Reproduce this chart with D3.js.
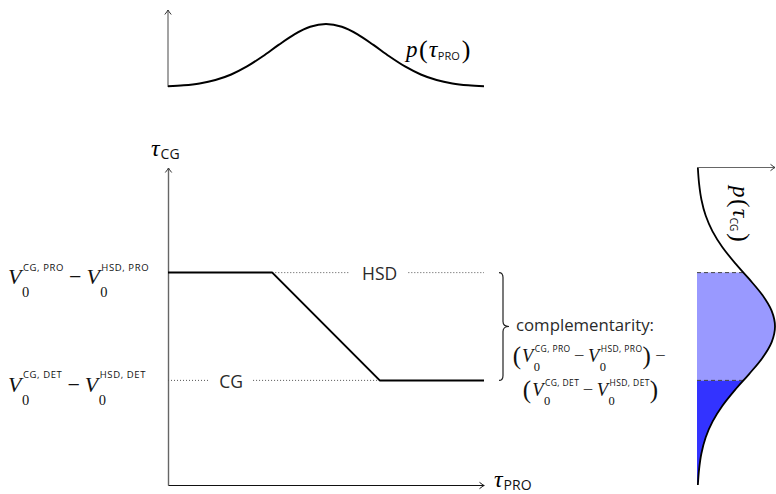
<!DOCTYPE html>
<html><head><meta charset="utf-8">
<script src="https://cdn.jsdelivr.net/npm/d3@7"></script>
<style>body{margin:0;background:#fff}</style>
</head><body><svg id="c" width="776" height="494"></svg>
<script>
// ---------- data ----------
const tauPRO = [0, 3.3, 6.7, 10];          // piecewise policy line, x values
const tauCG  = [6.7, 6.7, 3.3, 3.3];       // piecewise policy line, y values
const levelNames  = ["HSD", "CG"];
const levelValues = [6.7, 3.3];
const levelLabelAt = [6.7, 2.0];           // where the level text sits along tau_PRO
const levelSup = [["CG, PRO", "HSD, PRO"], ["CG, DET", "HSD, DET"]];
const densityTau = [0,0.5,1,1.5,2,2.5,3,3.5,4,4.5,5,5.5,6,6.5,7,7.5,8,8.5,9,9.5,10];
const densityP   = [0.011,0.027,0.057,0.111,0.199,0.326,0.488,0.668,0.836,0.956,1.0,
                    0.956,0.836,0.668,0.488,0.326,0.199,0.111,0.057,0.027,0.011];
const complementText = "complementarity:";

// ---------- scales ----------
const svg = d3.select("#c");
const x = d3.scaleLinear([0, 10], [168, 484]);
const y = d3.scaleLinear([0, 10], [485, 168]);
const yTop = d3.scaleLinear([0, 1], [87, 24]);
const xRight = d3.scaleLinear([0, 1], [697, 775]);

const SERIF = "'Liberation Serif', 'Times New Roman', serif";
const SANS = "'Open Sans', 'Noto Sans', sans-serif";
const dens = densityTau.map((t, i) => ({t, p: densityP[i]}));

function arrowHead(g, tx, ty, dir, color) {
  const p = dir === 'right'
    ? `M${tx-4.5},${ty-3.2} Q${tx-1.5},${ty-0.8} ${tx},${ty} Q${tx-1.5},${ty+0.8} ${tx-4.5},${ty+3.2}`
    : `M${tx-3.2},${ty+4.5} Q${tx-0.8},${ty+1.5} ${tx},${ty} Q${tx+0.8},${ty+1.5} ${tx+3.2},${ty+4.5}`;
  g.append("path").attr("d", p).attr("fill", "none").attr("stroke", color).attr("stroke-width", 1);
}
function tw(el) { return el.node().getComputedTextLength(); }

function expr(g, x0, base, tokens, s) {
  let cx = x0;
  tokens.forEach(t => {
    if (typeof t === "string") {
      if (t === "−") {
        cx += s.gap;
        const el = g.append("text").attr("x", cx).attr("y", base).attr("font-family", SERIF)
          .attr("font-size", s.v).attr("fill", "#111").text("−");
        cx += tw(el) + s.gap;
      } else {
        const el = g.append("text").attr("x", cx).attr("y", base + s.parenDy).attr("font-family", SERIF)
          .attr("font-size", s.paren).attr("fill", "#111").text(t);
        cx += tw(el) + 1;
      }
    } else {
      const v = g.append("text").attr("x", cx).attr("y", base).attr("font-family", SERIF)
        .attr("font-style", "italic").attr("font-size", s.v).attr("fill", "#111").text("V");
      const wv = tw(v);
      const sup = g.append("text").attr("x", cx + wv + 1.5).attr("y", base - s.supDy)
        .attr("font-family", SANS).attr("font-size", s.sup).attr("fill", "#111")
        .attr("letter-spacing", s.ls).text(t.V);
      const sub = g.append("text").attr("x", cx + wv + 0.5).attr("y", base + s.subDy)
        .attr("font-family", SERIF).attr("font-size", s.sub).attr("fill", "#111").text("0");
      cx += wv + Math.max(tw(sup) + 1.5, tw(sub));
    }
  });
  return cx;
}

// ---------- top density ----------
const topG = svg.append("g");
topG.append("line").attr("x1", x(0)).attr("x2", x(0)).attr("y1", yTop(0)).attr("y2", 10)
  .attr("stroke", "#666").attr("stroke-width", 1.2);
arrowHead(topG, x(0), 10, "up", "#333");
topG.append("path").datum(dens)
  .attr("d", d3.line().x(d => x(d.t)).y(d => yTop(d.p)).curve(d3.curveMonotoneX))
  .attr("fill", "none").attr("stroke", "#000").attr("stroke-width", 2);
{
  const g = topG.append("g");
  let cx = 406;
  const b = 57;
  let el = g.append("text").attr("x", cx).attr("y", b).attr("font-family", SERIF).attr("font-style", "italic")
    .attr("font-size", 23).text("p"); cx += tw(el) + 1.5;
  el = g.append("text").attr("x", cx).attr("y", b + 1).attr("font-family", SERIF).attr("font-size", 26).text("("); cx += tw(el) + 1;
  el = g.append("text").attr("x", cx).attr("y", b).attr("font-family", SERIF).attr("font-style", "italic")
    .attr("font-size", 24).text("τ"); cx += tw(el) + 0.5;
  el = g.append("text").attr("x", cx).attr("y", b + 3).attr("font-family", SANS).attr("font-size", 11)
    .attr("fill", "#111").text("PRO"); cx += tw(el) + 2;
  g.append("text").attr("x", cx).attr("y", b + 1).attr("font-family", SERIF).attr("font-size", 26).text(")");
}

// ---------- main plot ----------
const mainG = svg.append("g");
mainG.append("g").attr("transform", `translate(${x(0)},0)`)
  .call(d3.axisLeft(y).tickValues([]).tickSizeOuter(0))
  .call(g => g.select(".domain").attr("stroke", "#666").attr("stroke-width", 1.4));
mainG.append("g").attr("transform", `translate(0,${y(0)})`)
  .call(d3.axisBottom(x).tickValues([]).tickSizeOuter(0))
  .call(g => g.select(".domain").attr("stroke", "#111").attr("stroke-width", 1.2));
arrowHead(mainG, x(0) + 0.5, y(10), "up", "#333");
arrowHead(mainG, x(10), y(0) + 0.5, "right", "#111");

{
  let el = mainG.append("text").attr("x", 151).attr("y", 156).attr("font-family", SERIF).attr("font-style", "italic")
    .attr("font-size", 24).text("τ");
  mainG.append("text").attr("x", 151 + tw(el) + 1).attr("y", 159).attr("font-family", SANS).attr("font-size", 14)
    .attr("fill", "#111").text("CG");
  el = mainG.append("text").attr("x", 494).attr("y", 487).attr("font-family", SERIF).attr("font-style", "italic")
    .attr("font-size", 24).text("τ");
  mainG.append("text").attr("x", 494 + tw(el) + 1).attr("y", 489.5).attr("font-family", SANS).attr("font-size", 14)
    .attr("fill", "#111").text("PRO");
}

levelNames.forEach((name, i) => {
  const yy = y(levelValues[i]);
  const t = mainG.append("text").attr("x", x(levelLabelAt[i])).attr("y", yy + 7.5)
    .attr("text-anchor", "middle").attr("font-family", SANS).attr("font-size", 17.5)
    .attr("fill", "#2a2a2a").text(name);
  const w = tw(t);
  const cxl = x(levelLabelAt[i]);
  const segs = i === 0
    ? [[x(tauPRO[1]), cxl - w / 2 - 13], [cxl + w / 2 + 11, x(10)]]
    : [[x(0), cxl - w / 2 - 10], [cxl + w / 2 + 10, x(tauPRO[2])]];
  segs.forEach(([a, b]) => mainG.append("line").attr("x1", a).attr("x2", b).attr("y1", yy).attr("y2", yy)
    .attr("stroke", "#555").attr("stroke-width", 1).attr("stroke-dasharray", "1 2"));
});

mainG.append("path").datum(tauPRO.map((t, i) => [t, tauCG[i]]))
  .attr("d", d3.line().x(d => x(d[0])).y(d => y(d[1])))
  .attr("fill", "none").attr("stroke", "#000").attr("stroke-width", 2).attr("stroke-linejoin", "round");

const sL = {v: 22, sup: 9.5, sub: 14.5, paren: 24, parenDy: 1, supDy: 13.5, subDy: 13, gap: 5, ls: 0.6};
levelValues.forEach((lv, i) => {
  expr(mainG, 8, y(lv) + 11.5, [{V: levelSup[i][0]}, "−", {V: levelSup[i][1]}], sL);
});

{
  const yA = y(levelValues[0]), yB = y(levelValues[1]), ym = (yA + yB) / 2, bx = 503;
  const d = `M${bx-4},${yA} Q${bx},${yA} ${bx},${yA+5} L${bx},${ym-5} Q${bx},${ym} ${bx+6},${ym}
             Q${bx},${ym} ${bx},${ym+5} L${bx},${yB-5} Q${bx},${yB} ${bx-4},${yB}`;
  mainG.append("path").attr("d", d).attr("fill", "none").attr("stroke", "#222").attr("stroke-width", 1.2);
}

{
  mainG.append("text").attr("x", 585).attr("y", 331).attr("text-anchor", "middle")
    .attr("font-family", SANS).attr("font-size", 16.8).attr("fill", "#2a2a2a").text(complementText);
  const sC = {v: 18.5, sup: 8.5, sub: 12.5, paren: 25, parenDy: 2, supDy: 10.5, subDy: 9, gap: 3.5, ls: 0.4};
  const cxC = 591;
  const g2 = mainG.append("g");
  const e2 = expr(g2, 0, 362, ["(", {V: levelSup[0][0]}, "−", {V: levelSup[0][1]}, ")", "−"], sC);
  g2.attr("transform", `translate(${cxC - e2 / 2},0)`);
  const g3 = mainG.append("g");
  const e3 = expr(g3, 0, 396, ["(", {V: levelSup[1][0]}, "−", {V: levelSup[1][1]}, ")"], sC);
  g3.attr("transform", `translate(${cxC - e3 / 2},0)`);
}

// ---------- right density ----------
const rightG = svg.append("g");
const areaR = d3.area().y(d => y(d.t)).x0(xRight(0)).x1(d => xRight(d.p)).curve(d3.curveMonotoneY);
const lineR = d3.line().y(d => y(d.t)).x(d => xRight(d.p)).curve(d3.curveMonotoneY);
const defs = svg.append("defs");
defs.append("clipPath").attr("id", "clipLight").append("rect")
  .attr("x", 690).attr("width", 90).attr("y", y(levelValues[0])).attr("height", y(levelValues[1]) - y(levelValues[0]));
defs.append("clipPath").attr("id", "clipDark").append("rect")
  .attr("x", 690).attr("width", 90).attr("y", y(levelValues[1])).attr("height", y(0) - y(levelValues[1]) + 2);
defs.append("clipPath").attr("id", "clipArea").append("path").attr("d", areaR(dens));
rightG.append("path").attr("d", areaR(dens)).attr("fill", "#9999ff").attr("clip-path", "url(#clipLight)");
rightG.append("path").attr("d", areaR(dens)).attr("fill", "#3333ff").attr("clip-path", "url(#clipDark)");
levelValues.forEach(lv => rightG.append("line").attr("x1", xRight(0)).attr("x2", 780)
  .attr("y1", y(lv)).attr("y2", y(lv)).attr("stroke", "#444").attr("stroke-width", 1)
  .attr("stroke-dasharray", "4 3").attr("clip-path", "url(#clipArea)"));
rightG.append("path").attr("d", lineR(dens)).attr("fill", "none").attr("stroke", "#000").attr("stroke-width", 1.8);
rightG.append("line").attr("x1", xRight(0)).attr("x2", xRight(1)).attr("y1", y(10) - 0.5).attr("y2", y(10) - 0.5)
  .attr("stroke", "#666").attr("stroke-width", 1.2);
arrowHead(rightG, xRight(1), y(10) - 0.5, "right", "#333");
{
  const g = rightG.append("g").attr("transform", `translate(733,186) rotate(90)`);
  let cx = 0;
  let el = g.append("text").attr("x", cx).attr("y", 0).attr("font-family", SERIF).attr("font-style", "italic")
    .attr("font-size", 23).text("p"); cx += tw(el) + 1.5;
  el = g.append("text").attr("x", cx).attr("y", 1).attr("font-family", SERIF).attr("font-size", 26).text("("); cx += tw(el) + 1;
  el = g.append("text").attr("x", cx).attr("y", 0).attr("font-family", SERIF).attr("font-style", "italic")
    .attr("font-size", 24).text("τ"); cx += tw(el) + 0.5;
  el = g.append("text").attr("x", cx).attr("y", 3).attr("font-family", SANS).attr("font-size", 10)
    .attr("fill", "#111").text("CG"); cx += tw(el) + 2;
  g.append("text").attr("x", cx).attr("y", 1).attr("font-family", SERIF).attr("font-size", 26).text(")");
}
</script></body></html>
